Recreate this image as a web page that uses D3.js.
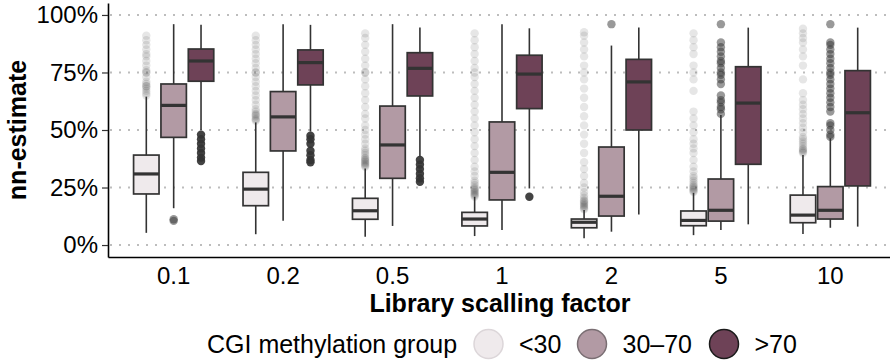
<!DOCTYPE html>
<html>
<head>
<meta charset="utf-8">
<script src="https://cdn.jsdelivr.net/npm/d3@7"></script>
<style>
  body { margin: 0; background: #fff; }
  svg { font-family: "Liberation Sans", Arial, sans-serif; }
</style>
</head>
<body>
<div id="chart"></div>
<script>
// categories
const factors = ["0.1", "0.2", "0.5", "1", "2", "5", "10"];
const groups = ["<30", "30–70", ">70"];
const colores = ["#efeaec", "#b29aa4", "#6e4257"];
const yTicks = [0, 0.25, 0.5, 0.75, 1];

// [whisker low, q1, median, q3, whisker high] per factor
const boxLow = [
  [0.053, 0.222, 0.309, 0.391, 0.645],
  [0.047, 0.171, 0.243, 0.316, 0.533],
  [0.036, 0.112, 0.149, 0.203, 0.333],
  [0.039, 0.083, 0.113, 0.142, 0.210],
  [0.029, 0.075, 0.099, 0.113, 0.152],
  [0.043, 0.084, 0.107, 0.148, 0.227],
  [0.048, 0.097, 0.130, 0.217, 0.391]
];
const boxMid = [
  [0.160, 0.468, 0.607, 0.700, 0.960],
  [0.106, 0.409, 0.557, 0.667, 0.960],
  [0.083, 0.290, 0.435, 0.604, 0.960],
  [0.065, 0.196, 0.316, 0.535, 0.960],
  [0.058, 0.126, 0.212, 0.426, 0.867],
  [0.065, 0.104, 0.151, 0.287, 0.565],
  [0.075, 0.113, 0.151, 0.254, 0.464]
];
const boxHigh = [
  [0.500, 0.712, 0.800, 0.852, 0.957],
  [0.493, 0.696, 0.793, 0.848, 0.957],
  [0.384, 0.648, 0.768, 0.836, 0.946],
  [0.246, 0.593, 0.743, 0.825, 0.942],
  [0.133, 0.500, 0.709, 0.807, 0.945],
  [0.090, 0.351, 0.617, 0.775, 0.945],
  [0.080, 0.257, 0.575, 0.758, 0.945]
];

// outliers per factor
const outLow = [
  [0.65, 0.66, 0.67, 0.68, 0.69, 0.69, 0.70, 0.71, 0.73, 0.75, 0.75, 0.76, 0.78, 0.80, 0.82, 0.83, 0.85, 0.87, 0.89, 0.91],
  [0.54, 0.545, 0.55, 0.56, 0.565, 0.57, 0.58, 0.59, 0.61, 0.63, 0.65, 0.67, 0.69, 0.71, 0.73, 0.75, 0.75, 0.77, 0.79, 0.81, 0.83, 0.85, 0.87, 0.89, 0.91],
  [0.34, 0.345, 0.35, 0.355, 0.36, 0.365, 0.37, 0.375, 0.38, 0.39, 0.40, 0.41, 0.42, 0.44, 0.46, 0.48, 0.50, 0.52, 0.55, 0.57, 0.60, 0.63, 0.66, 0.69, 0.72, 0.75, 0.75, 0.78, 0.81, 0.84, 0.87, 0.90, 0.92],
  [0.21, 0.215, 0.22, 0.225, 0.23, 0.235, 0.24, 0.245, 0.25, 0.26, 0.27, 0.28, 0.30, 0.32, 0.34, 0.37, 0.40, 0.43, 0.46, 0.49, 0.52, 0.55, 0.58, 0.61, 0.64, 0.67, 0.70, 0.73, 0.75, 0.77, 0.80, 0.83, 0.86, 0.89, 0.92],
  [0.155, 0.16, 0.165, 0.17, 0.175, 0.18, 0.185, 0.19, 0.195, 0.205, 0.215, 0.23, 0.25, 0.27, 0.30, 0.33, 0.36, 0.40, 0.44, 0.48, 0.52, 0.56, 0.60, 0.64, 0.68, 0.72, 0.75, 0.78, 0.82, 0.85, 0.88, 0.91, 0.925],
  [0.23, 0.235, 0.24, 0.245, 0.25, 0.255, 0.26, 0.27, 0.28, 0.29, 0.30, 0.32, 0.34, 0.37, 0.40, 0.42, 0.44, 0.46, 0.49, 0.52, 0.55, 0.58, 0.67, 0.72, 0.75, 0.78, 0.83, 0.86, 0.89, 0.92],
  [0.40, 0.405, 0.41, 0.415, 0.42, 0.43, 0.44, 0.45, 0.46, 0.47, 0.49, 0.51, 0.53, 0.55, 0.57, 0.59, 0.61, 0.63, 0.66, 0.72, 0.78, 0.82, 0.85, 0.88, 0.90, 0.92, 0.94]
];
const outMid = [
  [0.105, 0.112],
  [],
  [],
  [],
  [0.96],
  [0.57, 0.59, 0.60, 0.62, 0.63, 0.65, 0.70, 0.72, 0.74, 0.75, 0.77, 0.79, 0.80, 0.82, 0.84, 0.86, 0.88, 0.96],
  [0.47, 0.48, 0.50, 0.52, 0.53, 0.58, 0.60, 0.62, 0.64, 0.66, 0.68, 0.70, 0.72, 0.74, 0.75, 0.77, 0.79, 0.81, 0.83, 0.85, 0.87, 0.88, 0.96]
];
const outHigh = [
  [0.365, 0.38, 0.40, 0.42, 0.44, 0.46, 0.48],
  [0.36, 0.37, 0.39, 0.41, 0.44, 0.46, 0.475],
  [0.275, 0.29, 0.31, 0.33, 0.35, 0.37],
  [0.21],
  [],
  [],
  []
];

const cajas = [boxLow, boxMid, boxHigh];
const atipicos = [outLow, outMid, outHigh];
const alfa = [0.12, 0.5, 0.92];

const width = 890, height = 362;
const svg = d3.select("#chart")
  .append("svg")
  .attr("width", width)
  .attr("height", height);

const x = d3.scaleBand()
  .domain(factors)
  .range([108, 896])
  .paddingInner(0)
  .paddingOuter(0.1);

const xg = d3.scaleBand()
  .domain(groups)
  .range([-0.375 * x.step(), 0.375 * x.step()]);

const y = d3.scaleLinear()
  .domain([-0.052, 1.052])
  .range([257, 3]);

// grid punteada
svg.append("g")
  .selectAll("line")
  .data(yTicks)
  .enter()
  .append("line")
  .attr("x1", 110)
  .attr("x2", width)
  .attr("y1", d => y(d))
  .attr("y2", d => y(d))
  .attr("stroke", "#bdbdbd")
  .attr("stroke-width", 2)
  .attr("stroke-dasharray", "2,7");

// ejes
const ejeY = svg.append("g")
  .attr("transform", "translate(108,0)")
  .call(d3.axisLeft(y).tickValues(yTicks).tickFormat(d3.format(".0%"))
    .tickSize(6).tickSizeOuter(0).tickPadding(4));
ejeY.select(".domain").attr("stroke", "#000").attr("stroke-width", 1.6);
ejeY.selectAll(".tick line").attr("stroke", "#333").attr("stroke-width", 1.2);
ejeY.selectAll("text").attr("font-size", 24).attr("fill", "#000")
  .style("font-family", "'Liberation Sans', Arial, sans-serif");

const ejeX = svg.append("g")
  .attr("transform", "translate(0,257)")
  .call(d3.axisBottom(x).tickSize(0).tickSizeOuter(0).tickPadding(10));
ejeX.select(".domain").attr("stroke", "#000").attr("stroke-width", 1.6);
ejeX.selectAll("text").attr("font-size", 24).attr("fill", "#000")
  .style("font-family", "'Liberation Sans', Arial, sans-serif");

// cajas
const bw = xg.bandwidth() * 0.93;
groups.forEach((g, gi) => {
  const capa = svg.append("g");
  const datos = factors.map((f, i) => ({f, s: cajas[gi][i], o: atipicos[gi][i]}));
  const cx = d => x(d.f) + x.bandwidth() / 2 + xg(g) + xg.bandwidth() / 2;

  // outliers
  datos.forEach(d => {
    capa.selectAll(null)
      .data(d.o)
      .enter()
      .append("circle")
      .attr("cx", cx(d))
      .attr("cy", v => y(v))
      .attr("r", 4.2)
      .attr("fill", "#333")
      .attr("fill-opacity", alfa[gi]);
  });

  // bigotes
  capa.selectAll(".bigote")
    .data(datos)
    .enter()
    .append("line")
    .attr("x1", cx).attr("x2", cx)
    .attr("y1", d => y(d.s[0]))
    .attr("y2", d => y(d.s[4]))
    .attr("stroke", "#333")
    .attr("stroke-width", 1.6);

  capa.selectAll(".caja")
    .data(datos)
    .enter()
    .append("rect")
    .attr("x", d => cx(d) - bw / 2)
    .attr("y", d => y(d.s[3]))
    .attr("width", bw)
    .attr("height", d => y(d.s[1]) - y(d.s[3]))
    .attr("fill", colores[gi])
    .attr("stroke", "#333")
    .attr("stroke-width", 1.7);

  capa.selectAll(".mediana")
    .data(datos)
    .enter()
    .append("line")
    .attr("x1", d => cx(d) - bw / 2)
    .attr("x2", d => cx(d) + bw / 2)
    .attr("y1", d => y(d.s[2]))
    .attr("y2", d => y(d.s[2]))
    .attr("stroke", "#333")
    .attr("stroke-width", 3.2);
});

// Etiquetas de ejes
svg.append("text")
  .attr("x", 500)
  .attr("y", 312)
  .attr("text-anchor", "middle")
  .attr("font-size", 25)
  .attr("font-weight", "bold")
  .text("Library scalling factor");

svg.append("text")
  .attr("x", -130)
  .attr("y", 26)
  .attr("transform", "rotate(-90)")
  .attr("text-anchor", "middle")
  .attr("font-size", 25)
  .attr("font-weight", "bold")
  .text("nn-estimate");

// Leyenda
const leyendaX = [488.5, 592, 724];
const bordes = ["#dcd6d9", "#7a6e73", "#1a1a1a"];
svg.append("text")
  .attr("x", 207)
  .attr("y", 353)
  .attr("font-size", 25)
  .text("CGI methylation group");

const items = svg.append("g").selectAll("g")
  .data(groups)
  .enter()
  .append("g")
  .attr("transform", (d, i) => `translate(${leyendaX[i]},344)`);

items.append("circle")
  .attr("r", 14.5)
  .attr("fill", (d, i) => colores[i])
  .attr("stroke", (d, i) => bordes[i])
  .attr("stroke-width", 1.5);

items.append("text")
  .attr("x", 30.5)
  .attr("y", 9)
  .attr("font-size", 25)
  .text(d => d);
</script>
</body>
</html>
